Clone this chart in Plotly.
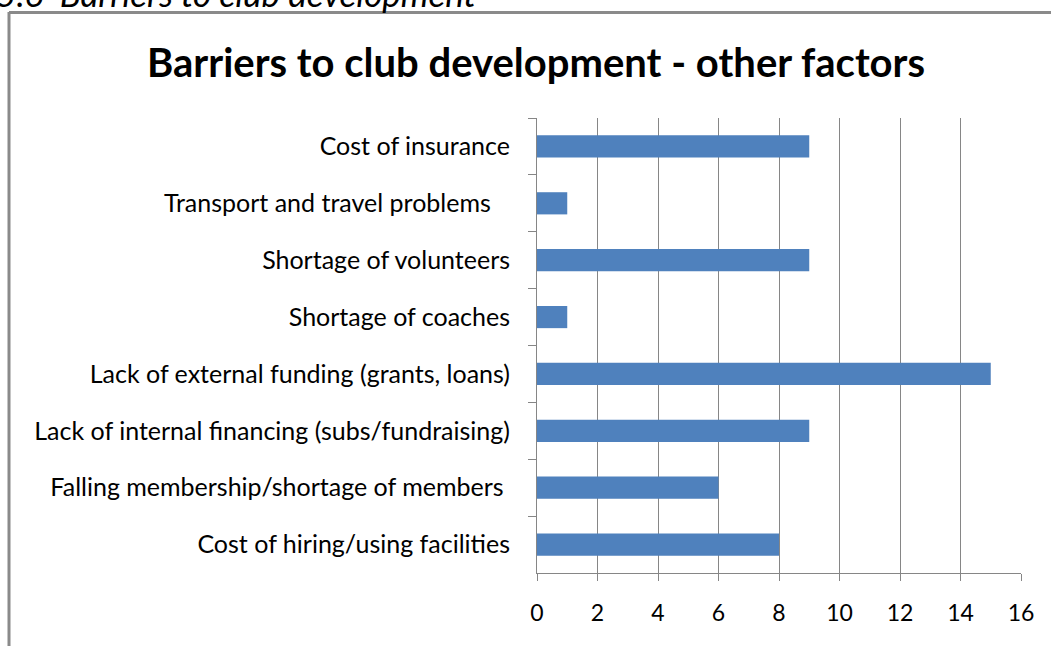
import plotly.graph_objects as go

# Barriers listed top to bottom as they appear on the chart
barriers = [
    "Cost of insurance",
    "Transport and travel problems\u00a0\u00a0\u00a0",
    "Shortage of volunteers",
    "Shortage of coaches",
    "Lack of external funding (grants, loans)",
    "Lack of internal financing (subs/fundraising)",
    "Falling membership/shortage of members\u00a0",
    "Cost of hiring/using facilities",
]
counts = [9, 1, 9, 1, 15, 9, 6, 8]
x_ticks = [0, 2, 4, 6, 8, 10, 12, 14, 16]

W, H = 1051, 646
L, R, T, B = 537, 30, 118, 73
FONT = "Lato, 'Open Sans', sans-serif"
GRID = "#868686"


def px_x(p):
    return (p - L) / (W - L - R)


def px_y(p):
    return 1 - (p - T) / (H - T - B)


fig = go.Figure(
    go.Bar(
        x=counts,
        y=barriers,
        orientation="h",
        marker=dict(color="#4F81BD", line=dict(width=0)),
        width=0.39,
    )
)

fig.update_layout(
    width=W,
    height=H,
    margin=dict(l=L, r=R, t=T, b=B),
    paper_bgcolor="white",
    plot_bgcolor="white",
    showlegend=False,
    font=dict(family=FONT, color="#000000"),
    xaxis=dict(
        range=[0, 16],
        tickvals=x_ticks,
        ticktext=[str(v) for v in x_ticks],
        showgrid=True,
        gridcolor=GRID,
        gridwidth=1,
        zeroline=False,
        showline=True,
        linecolor=GRID,
        linewidth=1,
        ticks="outside",
        ticklen=7,
        tickcolor=GRID,
        tickfont=dict(size=23, family=FONT),
        ticklabelstandoff=12,
        fixedrange=True,
    ),
    yaxis=dict(
        autorange="reversed",
        tickson="boundaries",
        ticks="outside",
        ticklen=8,
        tickcolor=GRID,
        showline=True,
        linecolor=GRID,
        linewidth=1,
        showgrid=False,
        tickfont=dict(size=25, family=FONT),
        ticklabelstandoff=21,
        fixedrange=True,
    ),
    annotations=[
        dict(
            text="<b>Barriers to club development - other factors</b>",
            xref="paper",
            yref="paper",
            x=px_x(536),
            y=px_y(62),
            xanchor="center",
            yanchor="middle",
            showarrow=False,
            font=dict(size=40, family=FONT, color="#000000"),
        ),
        dict(
            text="<i>Figure 5.6  Barriers to club development</i>",
            xref="paper",
            yref="paper",
            x=px_x(478),
            y=px_y(16),
            xanchor="right",
            yanchor="bottom",
            showarrow=False,
            font=dict(size=35, family=FONT, color="#000000"),
        ),
    ],
    shapes=[
        # chart frame (left and top edges)
        dict(type="line", xref="paper", yref="paper",
             x0=px_x(9), x1=px_x(9), y0=px_y(12), y1=px_y(660),
             line=dict(color="#8a8a8a", width=3)),
        dict(type="line", xref="paper", yref="paper",
             x0=px_x(9), x1=px_x(1060), y0=px_y(12.5), y1=px_y(12.5),
             line=dict(color="#8a8a8a", width=3)),
    ],
)

fig.write_html("out.html")
